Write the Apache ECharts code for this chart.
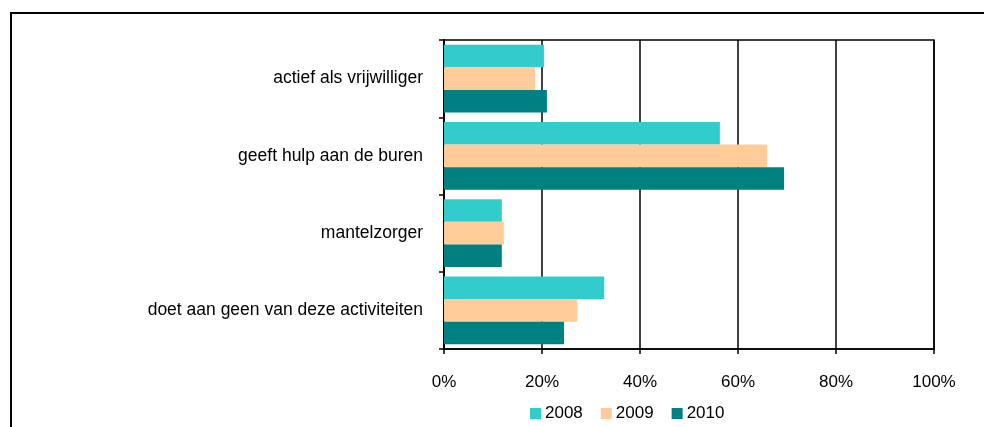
<!DOCTYPE html>
<html>
<head>
<meta charset="utf-8">
<script src="https://cdn.jsdelivr.net/npm/echarts@6/dist/echarts.min.js"></script>
<style>html,body{margin:0;padding:0;background:#fff}#c{width:984px;height:427px}</style>
</head>
<body>
<div id="c"></div>
<script>
const categories = ["actief als vrijwilliger", "geeft hulp aan de buren", "mantelzorger", "doet aan geen van deze activiteiten"];
const years = ["2008", "2009", "2010"];
const v2008 = [20.4, 56.3, 11.8, 32.7];
const v2009 = [18.6, 65.9, 12.2, 27.2];
const v2010 = [21.0, 69.4, 11.8, 24.5];
const xTicks = [0, 20, 40, 60, 80, 100];
const colors = ["#33CCCC", "#FFCC99", "#008080"];

const chart = echarts.init(document.getElementById('c'), null, {renderer: 'canvas'});
const font = 'Liberation Sans, Arial, sans-serif';
const seriesData = [v2008, v2009, v2010];
chart.setOption({
  animation: false,
  textStyle: {fontFamily: font},
  graphic: [{
    type: 'rect', shape: {x: 11, y: 13, width: 1200, height: 800},
    style: {fill: 'none', stroke: '#000', lineWidth: 2}, z: 100
  }],
  grid: {left: 444, top: 40, width: 490, height: 309, show: true, borderColor: '#000', borderWidth: 1.5, backgroundColor: 'transparent'},
  legend: {
    top: 400, left: 525, data: years, itemWidth: 11, itemHeight: 11, itemGap: 18,
    icon: 'rect', textStyle: {fontSize: 17, color: '#000', fontFamily: font, padding: [0, 0, 0, -1]}
  },
  xAxis: {
    type: 'value', min: xTicks[0], max: xTicks[xTicks.length - 1], interval: 20,
    axisLine: {show: true, lineStyle: {color: '#000', width: 1.5}},
    axisTick: {show: true, length: 5, lineStyle: {color: '#000', width: 1.5}},
    splitLine: {show: true, lineStyle: {color: '#000', width: 1.5}},
    axisLabel: {formatter: v => v + '%', fontSize: 17, color: '#000', margin: 25, fontFamily: font}
  },
  yAxis: {
    type: 'category', data: categories, inverse: true,
    axisLine: {show: true, lineStyle: {color: '#000', width: 2}},
    axisTick: {show: true, length: 5, lineStyle: {color: '#000', width: 1.5}},
    axisLabel: {fontSize: 17.5, color: '#000', margin: 21, fontFamily: font}
  },
  series: years.map((y, i) => ({
    name: y, type: 'bar', data: seriesData[i], barGap: '0%', barCategoryGap: '12%',
    itemStyle: {color: colors[i]}
  }))
});
</script>
</body>
</html>
